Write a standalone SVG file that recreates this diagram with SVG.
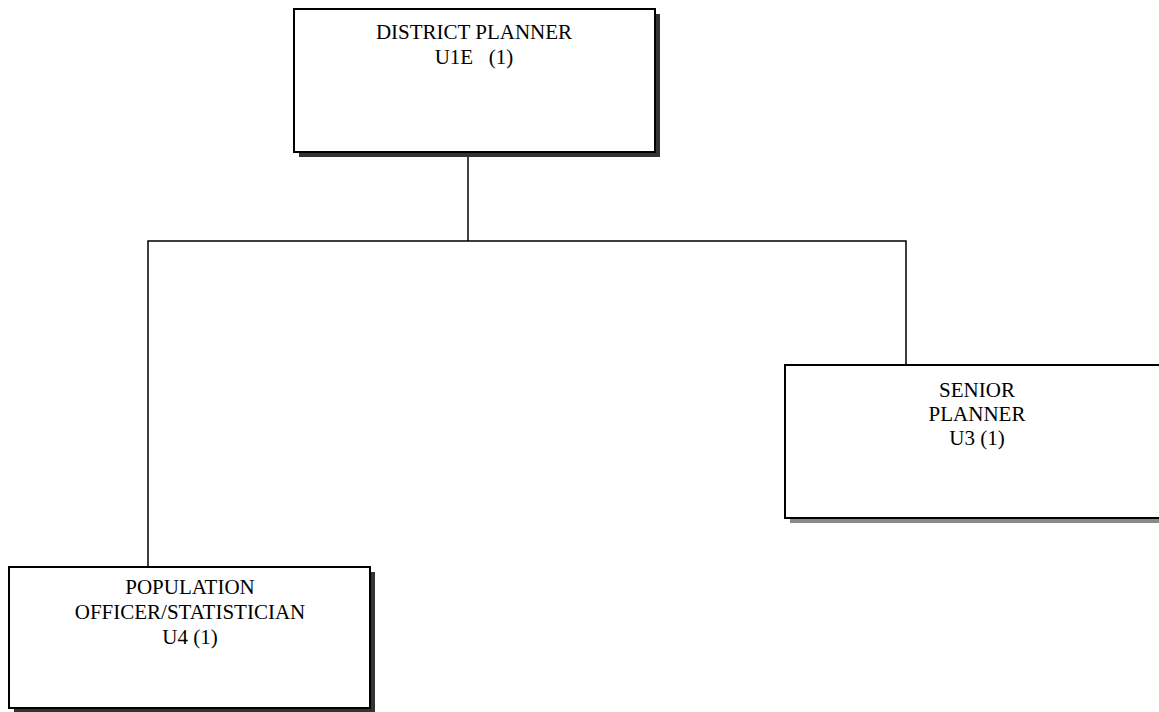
<svg xmlns="http://www.w3.org/2000/svg" width="1159" height="712" viewBox="0 0 1159 712">
<style>
.box{fill:#fff;stroke:#000;stroke-width:2}
.sh{fill:#333}
.shg{fill:#8a8a8a}
.t{font-family:"Liberation Serif","Times New Roman",serif;font-size:21px;fill:#000;text-anchor:middle;white-space:pre}
.c{fill:none;stroke:#000;stroke-width:1.5}
</style>
<rect width="1159" height="712" fill="#fff"/>
<g id="connectors">
<line class="c" x1="468" y1="152" x2="468" y2="241"/>
<polyline class="c" points="148,567 148,241 906,241 906,365"/>
</g>
<g id="district-planner">
<rect class="sh" x="299" y="14" width="361" height="143"/>
<rect class="box" x="294" y="9" width="361" height="143"/>
<text class="t" x="474" y="39">DISTRICT PLANNER</text>
<text class="t" x="474" y="64" xml:space="preserve">U1E   (1)</text>
</g>
<g id="senior-planner">
<rect class="shg" x="790" y="370" width="384" height="153"/>
<rect class="box" x="785" y="365" width="384" height="153"/>
<text class="t" x="977" y="397">SENIOR</text>
<text class="t" x="977" y="421">PLANNER</text>
<text class="t" x="977" y="445">U3 (1)</text>
</g>
<g id="population-officer">
<rect class="sh" x="14" y="572" width="361" height="141"/>
<rect class="box" x="9" y="567" width="361" height="141"/>
<text class="t" x="190" y="594">POPULATION</text>
<text class="t" x="190" y="619">OFFICER/STATISTICIAN</text>
<text class="t" x="190" y="644">U4 (1)</text>
</g>
</svg>
